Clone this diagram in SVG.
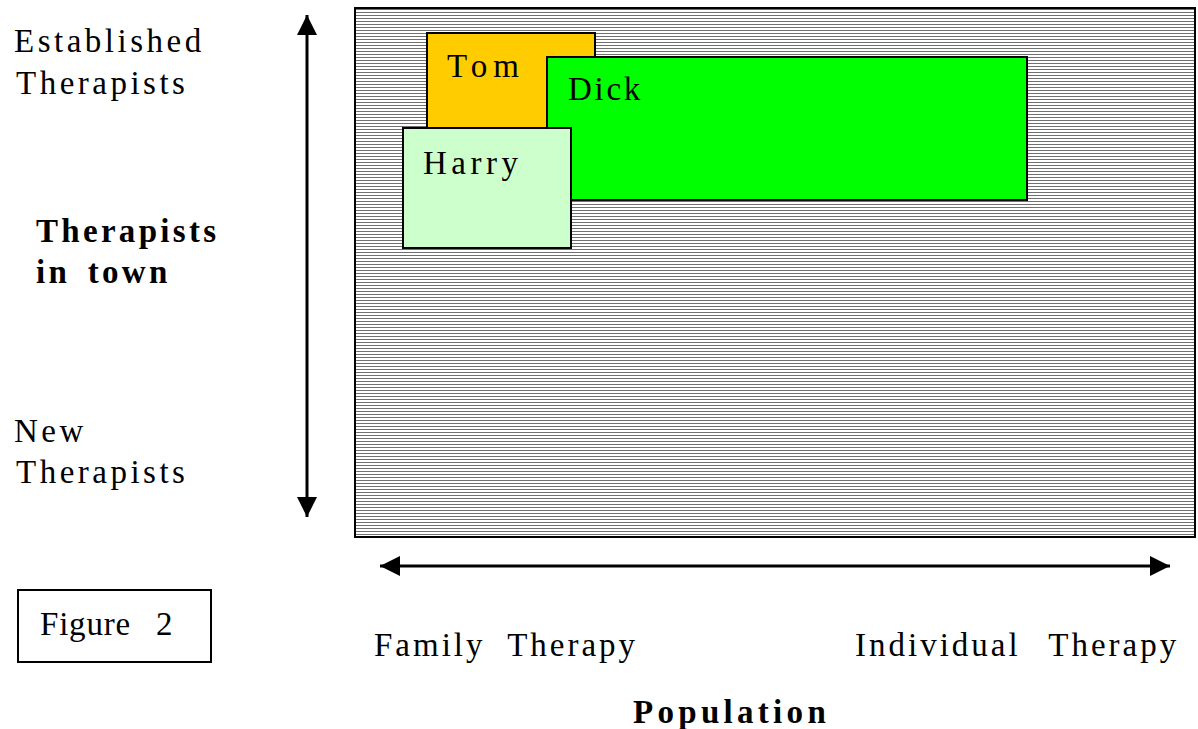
<svg xmlns="http://www.w3.org/2000/svg" width="1198" height="729" viewBox="0 0 1198 729">
<defs>
<pattern id="hatch" x="0" y="0" width="4" height="3" patternUnits="userSpaceOnUse">
<rect x="0" y="0" width="4" height="3" fill="#ffffff"/>
<rect x="0" y="0" width="4" height="1" fill="#707070"/>
</pattern>
<marker id="ah" viewBox="0 0 20 20" refX="20" refY="10" markerWidth="20" markerHeight="20" markerUnits="userSpaceOnUse" orient="auto-start-reverse">
<path d="M0,0 L20,10 L0,20 Z" fill="#000"/>
</marker>
<style>
text{font-family:"Liberation Serif","Times New Roman",serif;font-size:33px;fill:#000}
.b{font-weight:bold}
.box{stroke:#000;stroke-width:2}
</style>
</defs>
<rect width="1198" height="729" fill="#fff"/>
<g id="field">
<rect x="355" y="8" width="840" height="529" fill="url(#hatch)" stroke="#000" stroke-width="2"/>
</g>
<g id="tom">
<rect class="box" x="427" y="33" width="168" height="110" fill="#FFCC00"/>
<text x="447" y="77" letter-spacing="6">Tom</text>
</g>
<g id="dick">
<rect class="box" x="547" y="57" width="480" height="143" fill="#00FF00"/>
<text x="568" y="100" letter-spacing="2.7">Dick</text>
</g>
<g id="harry">
<rect class="box" x="403" y="128" width="168" height="120" fill="#CCFFCC"/>
<text x="423" y="174" letter-spacing="4.5">Harry</text>
</g>
<g id="connectors">
<line x1="307" y1="15" x2="307" y2="517" stroke="#000" stroke-width="3" marker-start="url(#ah)" marker-end="url(#ah)"/>
<line x1="380" y1="566" x2="1170" y2="566" stroke="#000" stroke-width="3" marker-start="url(#ah)" marker-end="url(#ah)"/>
</g>
<g id="labels">
<text x="14" y="52" letter-spacing="3.5">Established</text>
<text x="16" y="94" letter-spacing="3.5">Therapists</text>
<text class="b" x="36" y="242" letter-spacing="3.3">Therapists</text>
<text class="b" x="36" y="283" letter-spacing="3.3" word-spacing="6">in town</text>
<text x="14" y="442" letter-spacing="3.5">New</text>
<text x="16" y="483" letter-spacing="3.5">Therapists</text>
<text x="374" y="656" letter-spacing="3" word-spacing="11">Family Therapy</text>
<text x="855" y="656" letter-spacing="3" word-spacing="17">Individual Therapy</text>
<text class="b" x="633" y="723" letter-spacing="4.3">Population</text>
</g>
<g id="figure">
<rect x="18" y="590" width="193" height="72" fill="#fff" stroke="#000" stroke-width="2"/>
<text x="40" y="635" letter-spacing="0.8" word-spacing="16">Figure 2</text>
</g>
</svg>
